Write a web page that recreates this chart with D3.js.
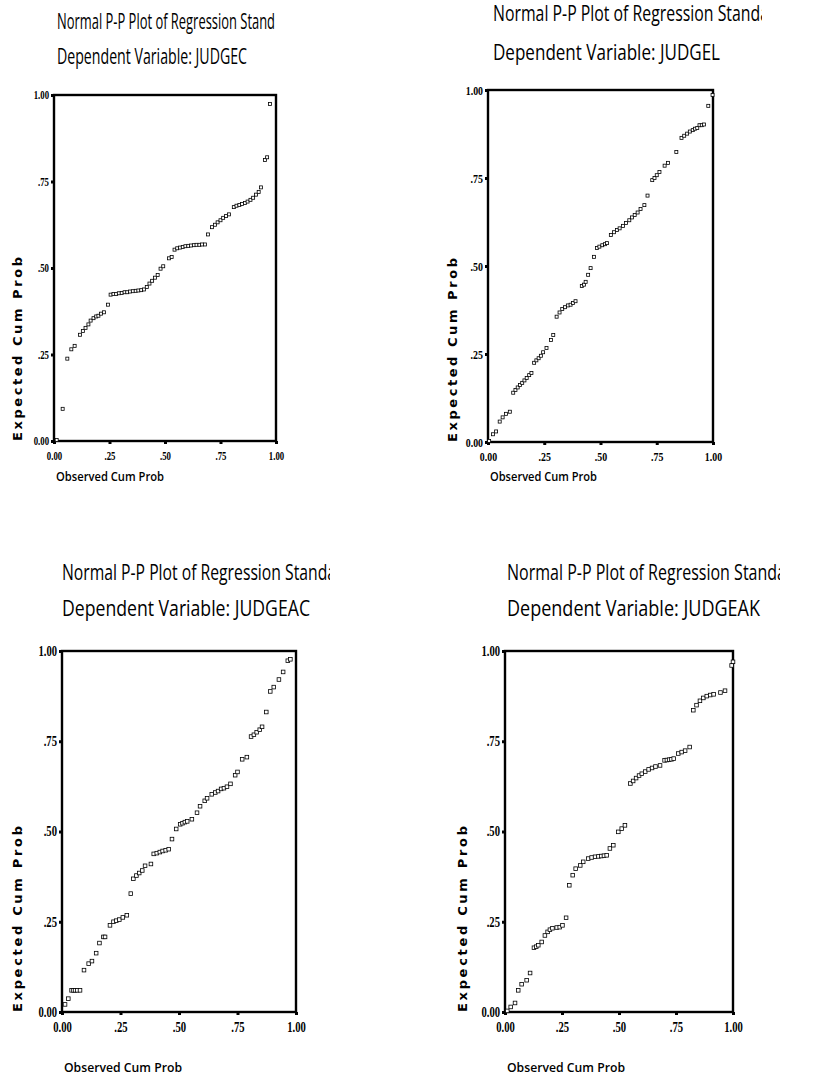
<!DOCTYPE html>
<html>
<head>
<meta charset="utf-8">
<script src="https://cdn.jsdelivr.net/npm/d3@7"></script>
<style>
  body { margin: 0; background: #fff; }
  svg { display: block; }
</style>
</head>
<body>
<svg id="chart" width="816" height="1084"></svg>
<script>
// Axis ticks shared by every P-P plot
const tickValues = [0, 0.25, 0.5, 0.75, 1];
const tickLabels = ["0.00", ".25", ".50", ".75", "1.00"];

// Titles and axis captions
const plotTitles = [
  "Normal P-P Plot of Regression Stand",
  "Normal P-P Plot of Regression Standa",
  "Normal P-P Plot of Regression Standa",
  "Normal P-P Plot of Regression Standa"
];
const dependentVariables = ["JUDGEC", "JUDGEL", "JUDGEAC", "JUDGEAK"];
const xAxisTitle = "Observed Cum Prob";
const yAxisTitle = "Expected Cum Prob";

// JUDGEC: observed vs expected cumulative probability
const judgecObserved = [0.012, 0.039, 0.060, 0.078, 0.093,
  0.117, 0.130, 0.142, 0.155, 0.165, 0.178, 0.190, 0.200, 0.212, 0.225,
  0.243,
  0.255, 0.268, 0.280, 0.292, 0.305, 0.318, 0.330, 0.342, 0.355, 0.368, 0.380, 0.393, 0.405,
  0.418, 0.430, 0.442, 0.455, 0.467,
  0.480, 0.492, 0.518, 0.530,
  0.543, 0.555, 0.568, 0.580, 0.592, 0.605, 0.617, 0.630, 0.642, 0.655, 0.667, 0.680,
  0.694, 0.712, 0.725, 0.737, 0.750, 0.762, 0.775, 0.788,
  0.810, 0.822, 0.835, 0.847, 0.860, 0.872, 0.885, 0.897, 0.910, 0.922, 0.932,
  0.950, 0.960, 0.973];
const judgecExpected = [0.003, 0.093, 0.238, 0.265, 0.275,
  0.307, 0.318, 0.327, 0.337, 0.348, 0.355, 0.360, 0.362, 0.368, 0.372,
  0.394,
  0.423, 0.425, 0.425, 0.427, 0.428, 0.430, 0.430, 0.432, 0.433, 0.434, 0.435, 0.436, 0.438,
  0.445, 0.455, 0.463, 0.472, 0.480,
  0.498, 0.505, 0.528, 0.532,
  0.553, 0.557, 0.559, 0.561, 0.563, 0.564, 0.565, 0.566, 0.567, 0.567, 0.568, 0.568,
  0.597, 0.618, 0.625, 0.632, 0.638, 0.645, 0.650, 0.655,
  0.676, 0.680, 0.682, 0.685, 0.688, 0.692, 0.697, 0.703, 0.712, 0.720, 0.733,
  0.812, 0.820, 0.974];

// JUDGEL
const judgelObserved = [0.005, 0.022, 0.036, 0.052, 0.065, 0.080, 0.097,
  0.112, 0.122, 0.132, 0.142, 0.152, 0.162, 0.172, 0.183, 0.193,
  0.205, 0.215, 0.225, 0.235, 0.245, 0.260,
  0.280, 0.290,
  0.305, 0.318, 0.330, 0.342, 0.355, 0.367, 0.378, 0.389,
  0.417, 0.427, 0.434, 0.445, 0.456, 0.471, 0.484, 0.495, 0.508, 0.520, 0.529,
  0.546, 0.560, 0.573, 0.585, 0.600, 0.613,
  0.628, 0.640, 0.652, 0.665, 0.678, 0.695,
  0.709, 0.730, 0.740, 0.750, 0.762, 0.785, 0.800, 0.837,
  0.860, 0.872, 0.885, 0.897, 0.910, 0.920, 0.930, 0.940, 0.950, 0.960, 0.979, 0.998];
const judgelExpected = [0.003, 0.022, 0.030, 0.058, 0.070, 0.080, 0.086,
  0.140, 0.148, 0.155, 0.162, 0.168, 0.175, 0.182, 0.190, 0.196,
  0.225, 0.232, 0.238, 0.245, 0.255, 0.267,
  0.290, 0.304,
  0.356, 0.368, 0.378, 0.383, 0.388, 0.390, 0.395, 0.400,
  0.443, 0.447, 0.455, 0.475, 0.494, 0.526, 0.551, 0.555, 0.559, 0.562, 0.565,
  0.588, 0.596, 0.602, 0.607, 0.614, 0.622,
  0.630, 0.638, 0.645, 0.652, 0.662, 0.673,
  0.700, 0.744, 0.750, 0.758, 0.767, 0.785, 0.793, 0.824,
  0.864, 0.870, 0.876, 0.882, 0.886, 0.890, 0.892, 0.900, 0.900, 0.902, 0.955, 0.986];

// JUDGEAC
const judgeacObserved = [0.013, 0.027, 0.041, 0.049, 0.056, 0.065, 0.077,
  0.094, 0.114, 0.128, 0.146, 0.160, 0.177, 0.184, 0.205, 0.220, 0.232, 0.245, 0.260, 0.277,
  0.294, 0.305, 0.318, 0.330, 0.343, 0.355, 0.380,
  0.392, 0.405, 0.418, 0.430, 0.443, 0.456, 0.470, 0.488,
  0.505, 0.515, 0.525, 0.535, 0.555, 0.577, 0.590, 0.610, 0.620, 0.640,
  0.655, 0.667, 0.680, 0.692, 0.705, 0.720, 0.740, 0.750, 0.770, 0.790,
  0.808, 0.820, 0.832, 0.845, 0.855, 0.873, 0.890, 0.905, 0.927, 0.945, 0.965, 0.976];
const judgeacExpected = [0.021, 0.037, 0.060, 0.060, 0.060, 0.060, 0.060,
  0.116, 0.134, 0.141, 0.163, 0.191, 0.208, 0.208, 0.240, 0.250, 0.253, 0.256, 0.262, 0.268,
  0.328, 0.369, 0.378, 0.385, 0.392, 0.405, 0.410,
  0.438, 0.440, 0.443, 0.446, 0.448, 0.451, 0.479, 0.507,
  0.520, 0.523, 0.526, 0.528, 0.534, 0.552, 0.570, 0.585, 0.592, 0.603,
  0.608, 0.612, 0.618, 0.620, 0.624, 0.632, 0.656, 0.665, 0.700, 0.706,
  0.763, 0.768, 0.775, 0.782, 0.790, 0.831, 0.888, 0.900, 0.921, 0.942, 0.973, 0.977];

// JUDGEAK
const judgeakObserved = [0.010, 0.025, 0.044, 0.058, 0.073, 0.095, 0.110,
  0.127, 0.137, 0.146, 0.161, 0.175, 0.187, 0.197, 0.208, 0.227, 0.240, 0.252, 0.268,
  0.282, 0.297, 0.310, 0.330, 0.343, 0.365, 0.380, 0.395, 0.410, 0.422, 0.434, 0.446,
  0.460, 0.475, 0.497, 0.512, 0.526,
  0.550, 0.562, 0.575, 0.588, 0.600, 0.615, 0.630, 0.645, 0.660, 0.680,
  0.700, 0.710, 0.720, 0.730, 0.740, 0.760, 0.775, 0.790, 0.810,
  0.826, 0.840, 0.855, 0.870, 0.885, 0.900, 0.915, 0.945, 0.965, 0.994, 1.000];
const judgeakExpected = [0.003, 0.014, 0.025, 0.060, 0.077, 0.088, 0.108,
  0.178, 0.181, 0.185, 0.194, 0.212, 0.222, 0.228, 0.232, 0.234, 0.235, 0.240, 0.261,
  0.351, 0.379, 0.397, 0.406, 0.416, 0.425, 0.428, 0.430, 0.431, 0.432, 0.433, 0.434,
  0.453, 0.462, 0.499, 0.508, 0.517,
  0.633, 0.640, 0.648, 0.655, 0.660, 0.666, 0.672, 0.676, 0.680, 0.683,
  0.697, 0.698, 0.699, 0.700, 0.702, 0.716, 0.720, 0.724, 0.734,
  0.836, 0.850, 0.862, 0.870, 0.875, 0.878, 0.880, 0.885, 0.890, 0.960, 0.970];

const seriesObserved = [judgecObserved, judgelObserved, judgeacObserved, judgeakObserved];
const seriesExpected = [judgecExpected, judgelExpected, judgeacExpected, judgeakExpected];

// Page placement of each panel
const panels = [
  { left: 54, right: 276, top: 95, bottom: 441, t1y: 29, t2y: 64, tx: 57, t1w: 218, t2w: 190, clip: null,
    tickSize: 12, tickScale: 0.72, titleSize: 21, marker: 3, yLabX: 17, yLabLen: 184, xLabY: 481, xLabW: 108, xLabSize: 12 },
  { left: 488, right: 713, top: 90, bottom: 442, t1y: 21, t2y: 60, tx: 493, t1w: 276, t2w: 227, clip: 762,
    tickSize: 13, tickScale: 0.75, titleSize: 22, marker: 3, yLabX: 452, yLabLen: 184, xLabY: 481, xLabW: 107, xLabSize: 12 },
  { left: 62, right: 296, top: 651, bottom: 1012, t1y: 580, t2y: 616, tx: 62, t1w: 274, t2w: 248, clip: 330,
    tickSize: 14, tickScale: 0.75, titleSize: 22, marker: 3.6, yLabX: 17, yLabLen: 186, xLabY: 1072, xLabW: 118, xLabSize: 13 },
  { left: 505, right: 733, top: 651, bottom: 1012, t1y: 580, t2y: 616, tx: 507, t1w: 279, t2w: 253, clip: 780,
    tickSize: 14, tickScale: 0.75, titleSize: 22, marker: 3.6, yLabX: 462, yLabLen: 186, xLabY: 1072, xLabW: 118, xLabSize: 13 }
];

const svg = d3.select("#chart");
const defs = svg.append("defs");
const titleFont = "'Open Sans', 'Noto Sans', sans-serif";
const tickFont = "'Liberation Serif', 'DejaVu Serif', serif";

// Rough advance of a bold serif digit/point, used to squeeze tick labels
const glyphWidth = ch => (ch === "." ? 0.27 : 0.5);

panels.forEach((p, i) => {
  const g = svg.append("g");
  const x = d3.scaleLinear().domain([0, 1]).range([p.left, p.right]);
  const y = d3.scaleLinear().domain([0, 1]).range([p.bottom, p.top]);

  // Titles (the first line runs past its box and is cut at the panel edge)
  let titleGroup = g.append("g");
  if (p.clip !== null) {
    const id = "titleClip" + i;
    defs.append("clipPath").attr("id", id)
      .append("rect").attr("x", p.tx - 5).attr("y", p.t1y - 30)
      .attr("width", p.clip - p.tx + 5).attr("height", 40);
    titleGroup = g.append("g").attr("clip-path", `url(#${id})`);
  }
  titleGroup.append("text")
    .attr("x", p.tx).attr("y", p.t1y)
    .attr("font-family", titleFont).attr("font-size", p.titleSize)
    .attr("textLength", p.t1w).attr("lengthAdjust", "spacingAndGlyphs")
    .text(plotTitles[i]);
  g.append("text")
    .attr("x", p.tx).attr("y", p.t2y)
    .attr("font-family", titleFont).attr("font-size", p.titleSize)
    .attr("textLength", p.t2w).attr("lengthAdjust", "spacingAndGlyphs")
    .text("Dependent Variable: " + dependentVariables[i]);

  // Axes
  const fmt = d => tickLabels[tickValues.indexOf(d)];
  const yAxis = g.append("g").attr("transform", `translate(${p.left},0)`)
    .call(d3.axisLeft(y).tickValues(tickValues).tickFormat(fmt).tickSize(3).tickPadding(2));
  const xAxis = g.append("g").attr("transform", `translate(0,${p.bottom})`)
    .call(d3.axisBottom(x).tickValues(tickValues).tickFormat(fmt).tickSize(3).tickPadding(7));
  [yAxis, xAxis].forEach(a => {
    a.select(".domain").remove();
    a.selectAll(".tick line").attr("stroke", "#000").attr("stroke-width", 3);
    a.selectAll(".tick text")
      .attr("font-family", tickFont).attr("font-weight", "bold")
      .attr("font-size", p.tickSize).attr("fill", "#000")
      .attr("textLength", function () {
        const t = d3.select(this).text();
        return d3.sum(t.split(""), glyphWidth) * p.tickSize * p.tickScale;
      })
      .attr("lengthAdjust", "spacingAndGlyphs");
  });

  // Plot frame
  g.append("rect")
    .attr("x", p.left).attr("y", p.top)
    .attr("width", p.right - p.left).attr("height", p.bottom - p.top)
    .attr("fill", "none").attr("stroke", "#000").attr("stroke-width", 2.4);

  // Points
  const pts = seriesObserved[i].map((o, k) => [o, seriesExpected[i][k]]);
  const s = p.marker;
  g.append("g").selectAll("rect").data(pts).join("rect")
    .attr("x", d => x(d[0]) - s / 2).attr("y", d => y(d[1]) - s / 2)
    .attr("width", s).attr("height", s)
    .attr("fill", "#fff").attr("stroke", "#000").attr("stroke-width", 0.8);

  // Axis captions
  g.append("text")
    .attr("transform", `translate(${p.yLabX},${p.bottom}) rotate(-90)`)
    .attr("dy", "0.35em")
    .attr("font-family", "'DejaVu Sans', Verdana, sans-serif").attr("font-weight", "bold")
    .attr("font-size", 13)
    .attr("textLength", p.yLabLen).attr("lengthAdjust", "spacing")
    .text(yAxisTitle);
  g.append("text")
    .attr("x", p.left + 2).attr("y", p.xLabY)
    .attr("font-family", titleFont).attr("font-weight", 600)
    .attr("font-size", p.xLabSize)
    .attr("textLength", p.xLabW).attr("lengthAdjust", "spacingAndGlyphs")
    .text(xAxisTitle);
});
</script>
</body>
</html>
